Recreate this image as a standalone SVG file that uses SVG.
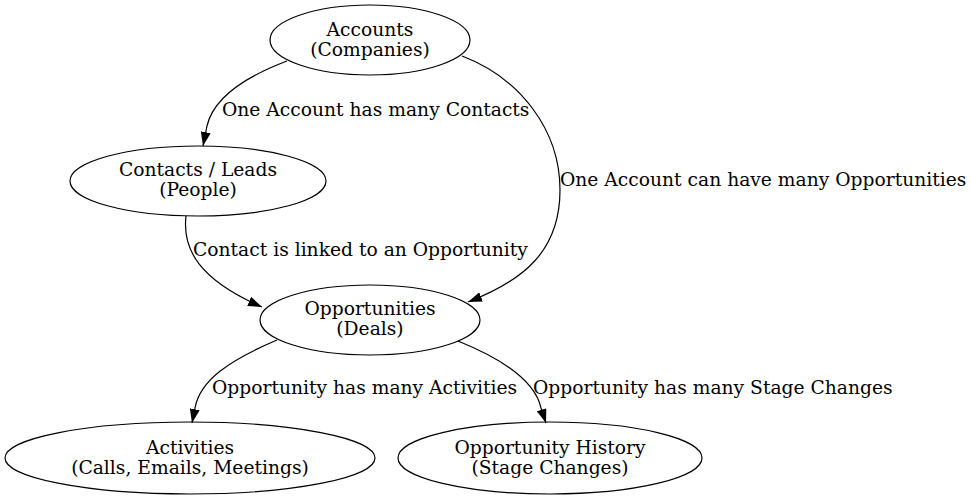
<svg xmlns="http://www.w3.org/2000/svg" width="971" height="501" viewBox="0 0 971 501">
<defs>
<style>
.n ellipse{fill:none;stroke:#000;stroke-width:1.2}
text{font-family:"DejaVu Serif",serif;font-size:18.7px;fill:#000}
.n text{text-anchor:middle}
.e path{fill:none;stroke:#000;stroke-width:1.2}
</style>
<marker id="ah" viewBox="0 0 10 7" refX="10" refY="3.5" markerWidth="14" markerHeight="10" markerUnits="userSpaceOnUse" orient="auto" preserveAspectRatio="none">
<path d="M0,0 L10,3.5 L0,7 Z" fill="#000"/>
</marker>
</defs>
<rect width="971" height="501" fill="#fff"/>
<g class="e" id="edges">
<path d="M287,61 C250,75 214,96 207,126 L203,146" marker-end="url(#ah)"/>
<text x="222" y="116">One Account has many Contacts</text>
<path d="M462,56 C520,78 560,130 560,190 C560,250 525,280 468,302" marker-end="url(#ah)"/>
<text x="560" y="186">One Account can have many Opportunities</text>
<path d="M186,216 C182,250 200,280 262,307" marker-end="url(#ah)"/>
<text x="193" y="256">Contact is linked to an Opportunity</text>
<path d="M277,340 C230,360 200,380 195,408 L192,423" marker-end="url(#ah)"/>
<text x="212" y="394">Opportunity has many Activities</text>
<path d="M458,341 C500,358 535,380 541,408 L546,423" marker-end="url(#ah)"/>
<text x="533" y="394">Opportunity has many Stage Changes</text>
</g>
<g class="n" id="accounts"><ellipse cx="370" cy="40" rx="100" ry="35"/><text x="370" y="36">Accounts</text><text x="370" y="56">(Companies)</text></g>
<g class="n" id="contacts"><ellipse cx="198" cy="181" rx="128" ry="35"/><text x="198" y="176">Contacts / Leads</text><text x="198" y="196">(People)</text></g>
<g class="n" id="opportunities"><ellipse cx="370" cy="320" rx="110" ry="35"/><text x="370" y="315">Opportunities</text><text x="370" y="335">(Deals)</text></g>
<g class="n" id="activities"><ellipse cx="190" cy="458" rx="185" ry="36"/><text x="190" y="454">Activities</text><text x="190" y="474">(Calls, Emails, Meetings)</text></g>
<g class="n" id="history"><ellipse cx="550" cy="458" rx="152" ry="36"/><text x="550" y="454">Opportunity History</text><text x="550" y="474">(Stage Changes)</text></g>
</svg>
